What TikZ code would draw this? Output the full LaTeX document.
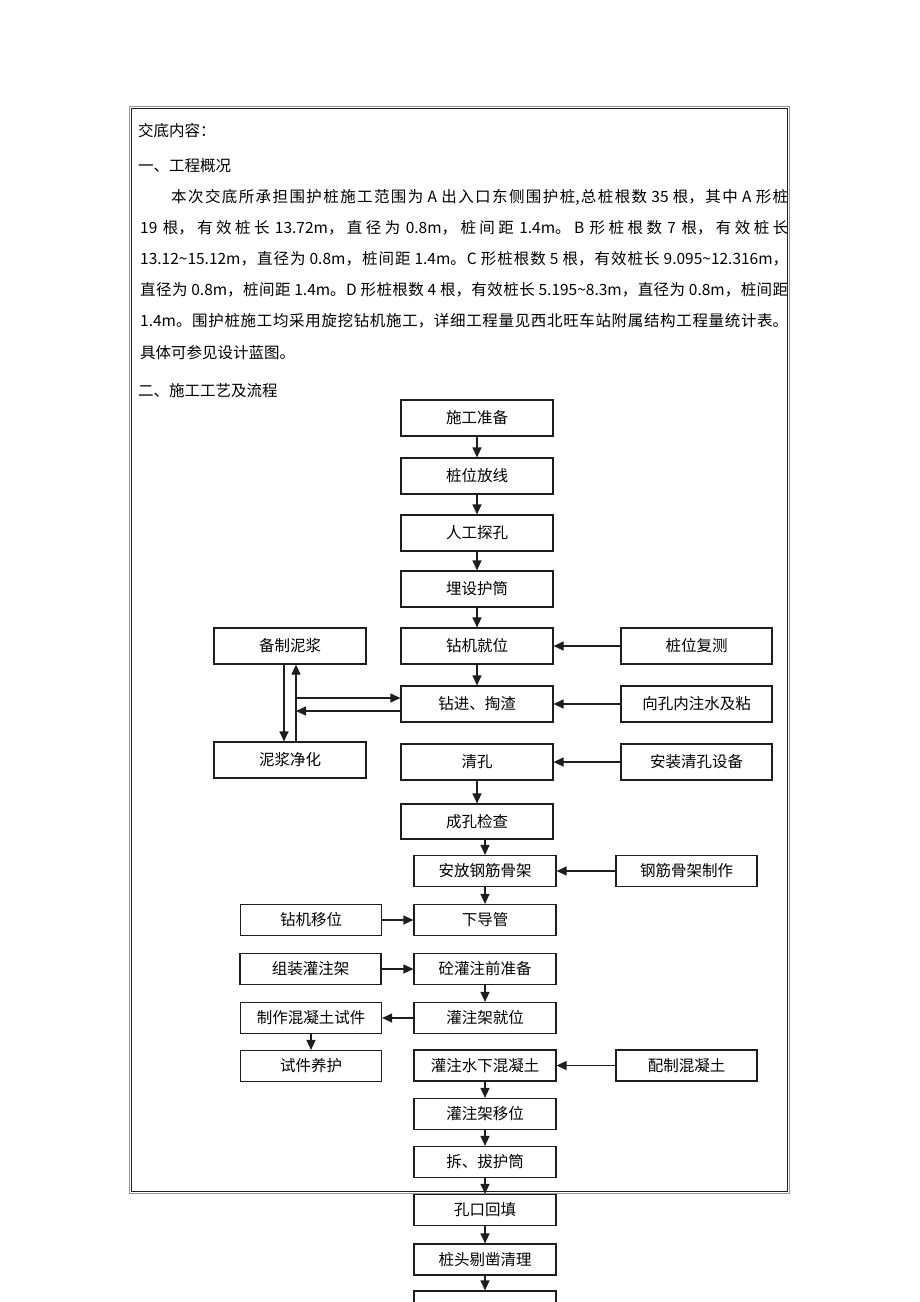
\documentclass[tikz,border=0pt]{standalone}
\usepackage{fontspec}
\setmainfont{Noto Sans CJK SC}
\usetikzlibrary{arrows.meta,positioning,calc}
\XeTeXlinebreaklocale "zh"
\XeTeXlinebreakskip=0pt plus 3pt
\definecolor{FrameGray}{RGB}{150,150,150}
\definecolor{LineDark}{RGB}{30,30,30}

\begin{document}
\begin{tikzpicture}[x=1pt, y=-1pt,
  txt/.style={inner sep=0pt, font=\fontsize{15.5}{18}\selectfont},
  box/.style={draw=LineDark, line width=1.2pt, inner sep=0pt, minimum width=152pt, minimum height=36pt, font=\fontsize{15.5}{18}\selectfont},
  sbox/.style={box, minimum width=142pt, minimum height=31pt},
  arr/.style={draw=LineDark, line width=1.2pt, -{Triangle[length=10pt,width=9pt]}}]

\useasboundingbox (0,0) rectangle (920,1302);

% Frame
\draw[FrameGray, line width=1pt] (129.5,106.5) rectangle (789.5,1193.5);
\draw[LineDark, line width=1.2pt] (131.5,108.5) rectangle (787.5,1191.5);

% Text part
\node[txt, anchor=west] (head) at (138,131) {交底内容：};
\node[txt, anchor=west] (sec1) at (138,166) {一、工程概况};
\node[txt, anchor=base west, text width=648pt, align=justify, font=\fontsize{15.5}{31.2}\selectfont] (para) at (140,202)
  {\hspace*{2em}本次交底所承担围护桩施工范围为 A 出入口东侧围护桩,总桩根数 35 根，其中 A 形桩\linebreak
   19 根，有效桩长 13.72m，直径为 0.8m，桩间距 1.4m。B 形桩根数 7 根，有效桩长\linebreak
   13.12\textasciitilde 15.12m，直径为 0.8m，桩间距 1.4m。C 形桩根数 5 根，有效桩长 9.095\textasciitilde 12.316m，\linebreak
   直径为 0.8m，桩间距 1.4m。D 形桩根数 4 根，有效桩长 5.195\textasciitilde 8.3m，直径为 0.8m，桩间距\linebreak
   1.4m。围护桩施工均采用旋挖钻机施工，详细工程量见西北旺车站附属结构工程量统计表。\linebreak
   具体可参见设计蓝图。};
\node[txt, anchor=west] (sec2) at (138,391) {二、施工工艺及流程};

% Main column
\node[box] (prep) at (477,418) {施工准备};
\node[box] (layout) at (477,476) {桩位放线};
\node[box] (probe) at (477,533) {人工探孔};
\node[box] (casing) at (477,589) {埋设护筒};
\node[box] (rig) at (477,646) {钻机就位};
\node[box] (drill) at (477,704) {钻进、掏渣};
\node[box] (clean) at (477,762) {清孔};
\node[box, minimum height=35pt] (check) at (477,821.5) {成孔检查};

% Side boxes, upper part
\node[box] (mudprep) at (290,646) {备制泥浆};
\node[box] (mudclean) at (290,760) {泥浆净化};
\node[box, minimum width=151pt] (recheck) at (696.5,646) {桩位复测};
\node[box, minimum width=151pt] (water) at (696.5,704) {向孔内注水及粘};
\node[box, minimum width=151pt] (device) at (696.5,762) {安装清孔设备};

% Lower column
\node[sbox] (place) at (485,871) {安放钢筋骨架};
\node[sbox] (pipe) at (485,920) {下导管};
\node[sbox] (preconc) at (485,969) {砼灌注前准备};
\node[sbox] (frameon) at (485,1018) {灌注架就位};
\node[sbox] (pour) at (485,1065.5) {灌注水下混凝土};
\node[sbox] (frameoff) at (485,1114) {灌注架移位};
\node[sbox] (pull) at (485,1162) {拆、拔护筒};
\node[sbox] (fill) at (485,1210) {孔口回填};
\node[sbox] (trim) at (485,1259.5) {桩头剔凿清理};
\node[sbox] (next) at (485,1306.5) {};

% Side boxes, lower part
\node[sbox, minimum width=141pt] (rigmove) at (311,920) {钻机移位};
\node[sbox, minimum width=141pt] (assemble) at (310.5,969) {组装灌注架};
\node[sbox, minimum width=141pt] (sample) at (311,1018) {制作混凝土试件};
\node[sbox, minimum width=141pt] (cure) at (311,1066) {试件养护};
\node[sbox, minimum width=141pt] (cage) at (686.5,871) {钢筋骨架制作};
\node[sbox, minimum width=141pt] (mix) at (686.5,1065.5) {配制混凝土};

% Arrows down
\foreach \a/\b in {prep/layout, layout/probe, probe/casing, casing/rig, rig/drill, clean/check,
                   place/pipe, preconc/frameon, pour/frameoff, frameoff/pull, pull/fill, fill/trim, trim/next}
  \draw[arr] (\a) -- (\b);
\draw[arr] (check.south -| place) -- (place);

% Arrows from the side
\foreach \a/\b in {recheck/rig, water/drill, device/clean, cage/place, mix/pour,
                   rigmove/pipe, assemble/preconc, frameon/sample, sample/cure}
  \draw[arr] (\a) -- (\b);

% Mud loop
\coordinate (mudup) at ([xshift=6pt]mudprep.south);
\coordinate (feedin) at ([yshift=6pt]drill.west);
\coordinate (feedout) at ([yshift=-7pt]drill.west);
\draw[arr] ([xshift=-6pt]mudprep.south) -- ([xshift=-6pt]mudclean.north);
\draw[arr] ([xshift=6pt]mudclean.north) -- (mudup);
\draw[arr] (feedin -| mudup) -- (feedin);
\draw[arr] (feedout) -- (feedout -| mudup);
\end{tikzpicture}
\end{document}
